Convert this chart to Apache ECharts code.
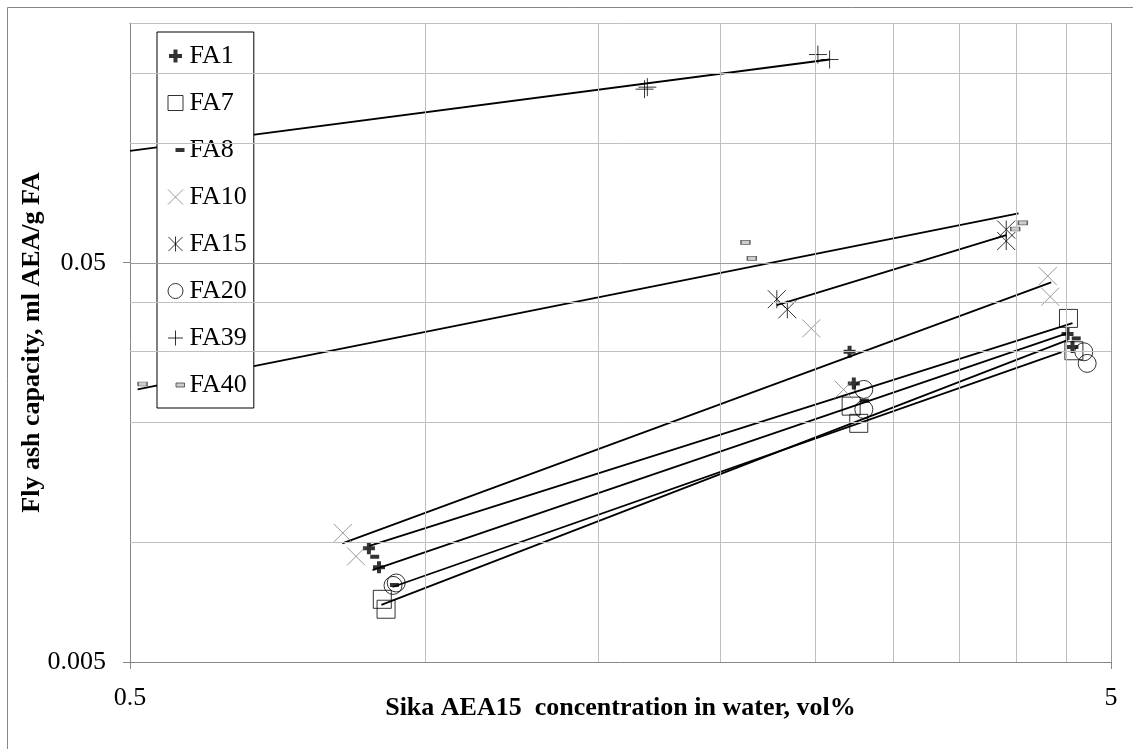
<!DOCTYPE html>
<html>
<head>
<meta charset="utf-8">
<title>Fly ash capacity</title>
<script src="https://cdn.jsdelivr.net/npm/echarts@6/dist/echarts.min.js"></script>
<style>
  html, body { margin: 0; padding: 0; background: #fff; }
  #chart { width: 1133px; height: 749px; }
</style>
</head>
<body>
<div id="chart"></div>
<script>
// points: [Sika AEA15 vol%, ml AEA / g FA]
const fa1 = [[0.876, 0.00964], [0.897, 0.00864], [2.707, 0.0300], [2.734, 0.02497], [4.515, 0.0332], [4.568, 0.0308]];
const fa7 = [[0.904, 0.00718], [0.912, 0.00678], [2.717, 0.0219], [2.766, 0.01983], [4.525, 0.03634], [4.583, 0.03015]];
const fa8 = [[0.888, 0.00918], [0.930, 0.0078], [2.804, 0.02259], [4.608, 0.03238]];
const fa10 = [[0.824, 0.01053], [0.850, 0.0092], [2.474, 0.0343], [2.669, 0.0241], [4.31, 0.0464], [4.335, 0.0412]];
const fa15 = [[2.282, 0.0406], [2.339, 0.0383], [3.910, 0.0607], [3.910, 0.0568]];
const fa20 = [[0.927, 0.00778], [0.934, 0.00789], [2.799, 0.02412], [2.799, 0.02149], [4.691, 0.02997], [4.728, 0.02803]];
const fa39 = [[1.673, 0.1365], [1.684, 0.1381], [2.513, 0.1667], [2.583, 0.162]];
const fa40 = [[0.515, 0.02488], [2.120, 0.05636], [2.152, 0.0514], [4.065, 0.0631], [3.993, 0.0609]];

// power trendlines (ends as drawn)
const fa1Trend = [[0.877, 0.00977], [4.568, 0.03537]];
const fa7Trend = [[0.902, 0.00695], [4.515, 0.03206]];
const fa8Trend = [[0.8835, 0.0085], [4.515, 0.03338]];
const fa10Trend = [[0.823, 0.00992], [4.345, 0.04473]];
const fa15Trend = [[2.282, 0.03924], [3.910, 0.05877]];
const fa20Trend = [[0.926, 0.00771], [4.452, 0.02992]];
const fa39Trend = [[0.5, 0.0956], [2.583, 0.162]];
const fa40Trend = [[0.509, 0.02412], [4.0245, 0.0666]];

const xLabels = [0.5, 5];
const yLabels = [0.005, 0.05];
const xGridMinor = [1, 1.5, 2, 2.5, 3, 3.5, 4, 4.5];
const xGridMajor = [5];
const yGridMinor = [0.01, 0.015, 0.02, 0.025, 0.03, 0.035, 0.04, 0.045, 0.1, 0.15, 0.2];
const yGridMajor = [0.05];

const serif = 'Liberation Serif';

// marker shapes
const plusBold = 'path://M4 0H8V4H12V8H8V12H4V8H0V4H4Z';
const cross = 'path://M0 0L10 10M10 0L0 10';
const star = 'path://M0 0L10 10M10 0L0 10M5 0L5 10';
const plusThin = 'path://M5 0V10M0 5H10';

// legend icons, padded into an 18x18 box
const plusBoldL = 'path://M0 0M18 18M7 2.5H11V7H15.5V11H11V15.5H7V11H2.5V7H7Z';
const squareL = 'path://M0 0M18 18M1.5 1.5H16.5V16.5H1.5Z';
const dashL = 'path://M0 0M18 18M9 7H18V11H9Z';
const crossL = 'path://M0 0M18 18M1.5 1.5L16.5 16.5M16.5 1.5L1.5 16.5';
const starL = 'path://M0 0M18 18M2 2L16 16M16 2L2 16M9 1.5L9 16.5';
const circleL = 'path://M0 0M18 18M16.5 9A7.5 7.5 0 1 1 1.5 9A7.5 7.5 0 1 1 16.5 9Z';
const plusThinL = 'path://M0 0M18 18M9 1.5V16.5M1.5 9H16.5';
const smallRectL = 'path://M0 0M18 18M9.5 7H18V11H9.5Z';

const solid = { color: '#000', borderWidth: 0 };
const open = { color: 'none', borderColor: '#000', borderWidth: 1 };
const openGray = { color: 'none', borderColor: '#808080', borderWidth: 1 };
const rectGray = { color: '#c0c0c0', borderColor: '#404040', borderWidth: 1 };

// log ticks come out slightly off (0.0501...), so match loosely
function fmt(list) {
  return function (v) {
    for (let i = 0; i < list.length; i++) {
      if (Math.abs(v - list[i]) / list[i] < 0.01) return String(list[i]);
    }
    return '';
  };
}

function gridLines(vals, key, color) {
  return vals.map(v => ({ [key]: v, lineStyle: { color: color, width: 1, type: 'solid' } }));
}

function scatter(name, data, symbol, size, style) {
  return {
    name: name, type: 'scatter', data: data, symbol: symbol, symbolSize: size,
    itemStyle: style, z: 4, silent: true
  };
}

function trend(name, data) {
  return {
    name: name + ' trend', type: 'line', data: data, symbol: 'none', silent: true,
    lineStyle: { color: '#000', width: 1.8 }, z: 3
  };
}

const chart = echarts.init(document.getElementById('chart'));
chart.setOption({
  backgroundColor: '#fff',
  animation: false,
  textStyle: { fontFamily: serif },
  grid: { left: 130, top: 23, width: 981, height: 639 },
  xAxis: {
    type: 'log', logBase: 10, min: 0.5, max: 5, interval: 1,
    name: 'Sika AEA15  concentration in water, vol%',
    nameLocation: 'middle', nameGap: 33, nameMoveOverlap: false,
    nameTextStyle: { fontFamily: serif, fontWeight: 'bold', fontSize: 26, color: '#000' },
    axisLine: { lineStyle: { color: '#868686', width: 1 } },
    axisTick: { show: true, length: 7, lineStyle: { color: '#868686' } },
    axisLabel: { formatter: fmt(xLabels), fontFamily: serif, fontSize: 26, color: '#000', margin: 23 },
    splitLine: { show: false }
  },
  yAxis: {
    type: 'log', logBase: 10, min: 0.005, max: 0.2, interval: 1,
    name: 'Fly ash capacity, ml AEA/g FA',
    nameLocation: 'middle', nameGap: 85, nameMoveOverlap: false,
    nameTextStyle: { fontFamily: serif, fontWeight: 'bold', fontSize: 26, color: '#000' },
    axisLine: { lineStyle: { color: '#868686', width: 1 } },
    axisTick: { show: true, length: 7, lineStyle: { color: '#868686' } },
    axisLabel: { formatter: fmt(yLabels), fontFamily: serif, fontSize: 26, color: '#000', margin: 24 },
    splitLine: { show: false }
  },
  legend: {
    orient: 'vertical', left: 157, top: 32,
    padding: [11, 7, 10, 7], itemGap: 21, itemWidth: 18, itemHeight: 18,
    backgroundColor: '#fff', borderColor: '#000', borderWidth: 1,
    selectedMode: false,
    textStyle: { fontFamily: serif, fontSize: 26, color: '#000', lineHeight: 26 },
    data: [
      { name: 'FA1', icon: plusBoldL, itemStyle: solid },
      { name: 'FA7', icon: squareL, itemStyle: open },
      { name: 'FA8', icon: dashL, itemStyle: solid },
      { name: 'FA10', icon: crossL, itemStyle: openGray },
      { name: 'FA15', icon: starL, itemStyle: open },
      { name: 'FA20', icon: circleL, itemStyle: open },
      { name: 'FA39', icon: plusThinL, itemStyle: open },
      { name: 'FA40', icon: smallRectL, itemStyle: rectGray }
    ]
  },
  graphic: [
    { type: 'rect', z: 100, shape: { x: 7.5, y: 7.5, width: 1140, height: 760 },
      style: { fill: 'none', stroke: '#868686', lineWidth: 1 }, silent: true },
    { type: 'rect', z: 100, shape: { x: 114, y: 16, width: 15.5, height: 12 },
      style: { fill: '#fff' }, silent: true }
  ],
  series: [
    {
      name: 'grid', type: 'line', data: [], z: 1, silent: true,
      markLine: {
        silent: true, symbol: ['none', 'none'], label: { show: false }, animation: false,
        data: [].concat(
          gridLines(xGridMinor, 'xAxis', '#bfbfbf'),
          gridLines(yGridMinor, 'yAxis', '#bfbfbf'),
          gridLines(xGridMajor, 'xAxis', '#9a9a9a'),
          gridLines(yGridMajor, 'yAxis', '#9a9a9a')
        )
      }
    },
    trend('FA1', fa1Trend),
    trend('FA7', fa7Trend),
    trend('FA8', fa8Trend),
    trend('FA10', fa10Trend),
    trend('FA15', fa15Trend),
    trend('FA20', fa20Trend),
    trend('FA39', fa39Trend),
    trend('FA40', fa40Trend),
    scatter('FA1', fa1, plusBold, 12, solid),
    scatter('FA7', fa7, 'rect', 18, open),
    scatter('FA8', fa8, 'rect', [9, 4], solid),
    scatter('FA10', fa10, cross, 18, openGray),
    scatter('FA15', fa15, star, 18, open),
    scatter('FA20', fa20, 'circle', 18, open),
    scatter('FA39', fa39, plusThin, 18, open),
    scatter('FA40', fa40, 'rect', [9, 4], rectGray)
  ]
});
</script>
</body>
</html>
